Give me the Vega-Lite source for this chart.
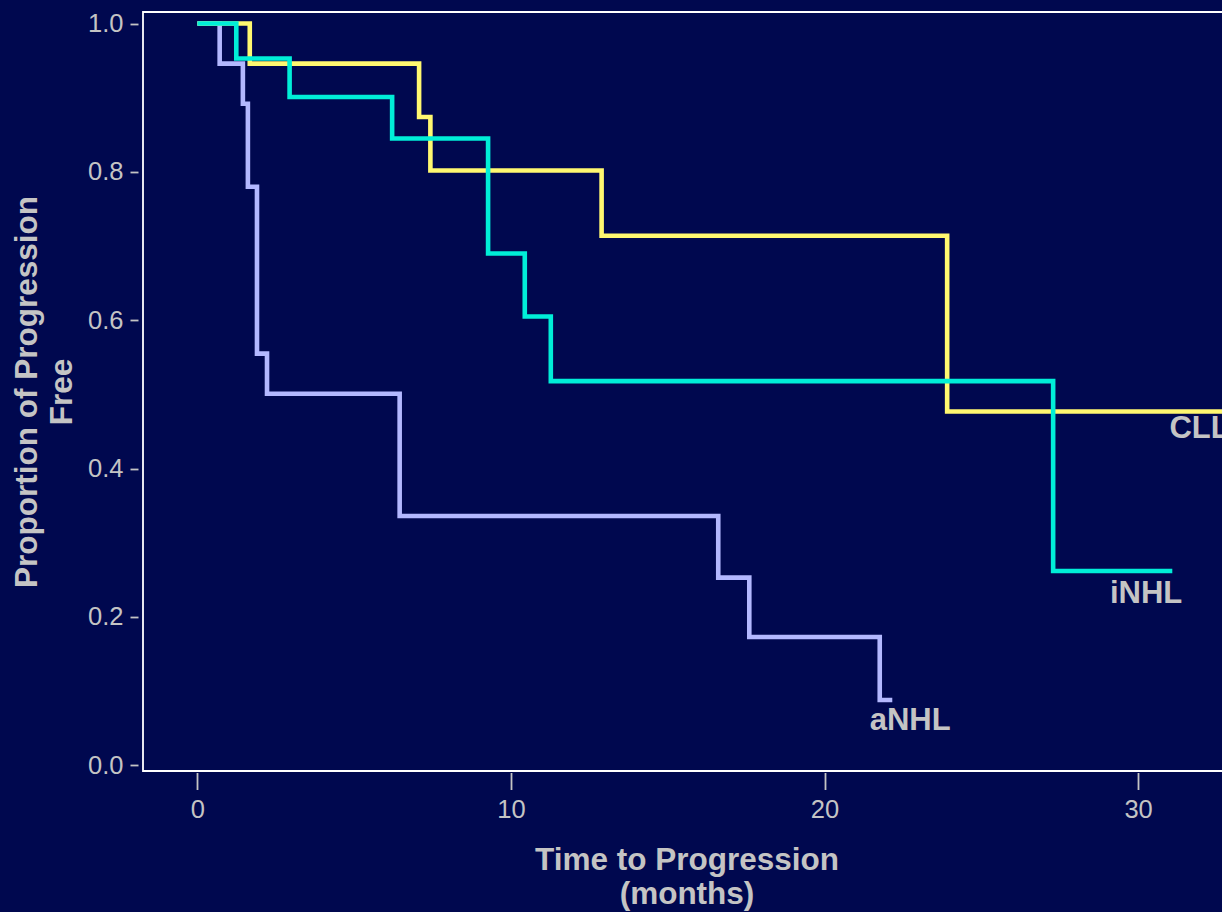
{
  "$schema": "https://vega.github.io/schema/vega-lite/v6.json",
  "autosize": {"type": "none"},
  "padding": {"left": 143, "top": 12, "right": 0, "bottom": 141},
  "width": 1087,
  "height": 759,
  "background": "#00084f",
  "config": {
    "view": {"stroke": "#ffffff", "strokeWidth": 1.8, "fill": "#00084f"},
    "font": "Liberation Sans",
    "axis": {
      "domain": false,
      "grid": false,
      "tickColor": "#c4c4c4",
      "tickWidth": 1.8,
      "labelColor": "#c4c4c4",
      "labelFont": "Liberation Sans",
      "labelFontSize": 25.5,
      "titleColor": "#c4c4c4",
      "titleFont": "Liberation Sans",
      "titleFontSize": 31.5,
      "titleFontWeight": "bold"
    }
  },
  "datasets": {
    "curves": [
      {"group": "aNHL", "t": 0, "p": 1.0},
      {"group": "aNHL", "t": 0.71, "p": 0.946},
      {"group": "aNHL", "t": 1.45, "p": 0.892},
      {"group": "aNHL", "t": 1.61, "p": 0.78},
      {"group": "aNHL", "t": 1.9, "p": 0.555},
      {"group": "aNHL", "t": 2.22, "p": 0.501},
      {"group": "aNHL", "t": 6.45, "p": 0.336},
      {"group": "aNHL", "t": 16.61, "p": 0.253},
      {"group": "aNHL", "t": 17.6, "p": 0.173},
      {"group": "aNHL", "t": 21.76, "p": 0.088},
      {"group": "aNHL", "t": 22.16, "p": 0.088},
      {"group": "CLL", "t": 0, "p": 1.0},
      {"group": "CLL", "t": 1.67, "p": 0.946},
      {"group": "CLL", "t": 7.07, "p": 0.874},
      {"group": "CLL", "t": 7.43, "p": 0.802},
      {"group": "CLL", "t": 12.89, "p": 0.714},
      {"group": "CLL", "t": 23.91, "p": 0.477},
      {"group": "CLL", "t": 32.9, "p": 0.477},
      {"group": "iNHL", "t": 0, "p": 1.0},
      {"group": "iNHL", "t": 1.24, "p": 0.953},
      {"group": "iNHL", "t": 2.94, "p": 0.901},
      {"group": "iNHL", "t": 6.21, "p": 0.845},
      {"group": "iNHL", "t": 9.27, "p": 0.69},
      {"group": "iNHL", "t": 10.44, "p": 0.605},
      {"group": "iNHL", "t": 11.27, "p": 0.518},
      {"group": "iNHL", "t": 27.29, "p": 0.262},
      {"group": "iNHL", "t": 31.09, "p": 0.262}
    ],
    "labels": [
      {"group": "aNHL", "t": 21.44, "p": 0.0476},
      {"group": "CLL", "t": 31.0, "p": 0.441},
      {"group": "iNHL", "t": 29.1, "p": 0.2187}
    ]
  },
  "layer": [
    {
      "data": {"name": "curves"},
      "mark": {"type": "line", "interpolate": "step-after", "strokeWidth": 4.6, "clip": true},
      "encoding": {
        "x": {
          "field": "t", "type": "quantitative",
          "scale": {"domain": [-1.735, 32.93], "nice": false, "zero": false},
          "axis": {
            "values": [0, 10, 20, 30],
            "tickSize": 17,
            "offset": 1.5,
            "labelPadding": 8,
            "title": ["Time to Progression", "(months)"],
            "titleLineHeight": 34,
            "titlePadding": 21
          }
        },
        "y": {
          "field": "p", "type": "quantitative",
          "scale": {"domain": [-0.0077, 1.0156], "nice": false, "zero": false},
          "axis": {
            "values": [0, 0.2, 0.4, 0.6, 0.8, 1.0],
            "format": ".1f",
            "tickSize": 8,
            "offset": 5,
            "labelPadding": 7,
            "title": ["Proportion of Progression", "Free"],
            "titleLineHeight": 35,
            "titlePadding": 9
          }
        },
        "color": {
          "field": "group", "type": "nominal",
          "scale": {"domain": ["aNHL", "CLL", "iNHL"], "range": ["#b3b8ff", "#fff870", "#00eed8"]},
          "legend": null
        },
        "order": {"field": "t", "type": "quantitative"}
      }
    },
    {
      "data": {"name": "labels"},
      "mark": {"type": "text", "align": "left", "baseline": "alphabetic", "fontSize": 31, "fontWeight": "bold", "color": "#c4c4c4", "font": "Liberation Sans"},
      "encoding": {
        "x": {"field": "t", "type": "quantitative"},
        "y": {"field": "p", "type": "quantitative"},
        "text": {"field": "group", "type": "nominal"}
      }
    }
  ]
}
